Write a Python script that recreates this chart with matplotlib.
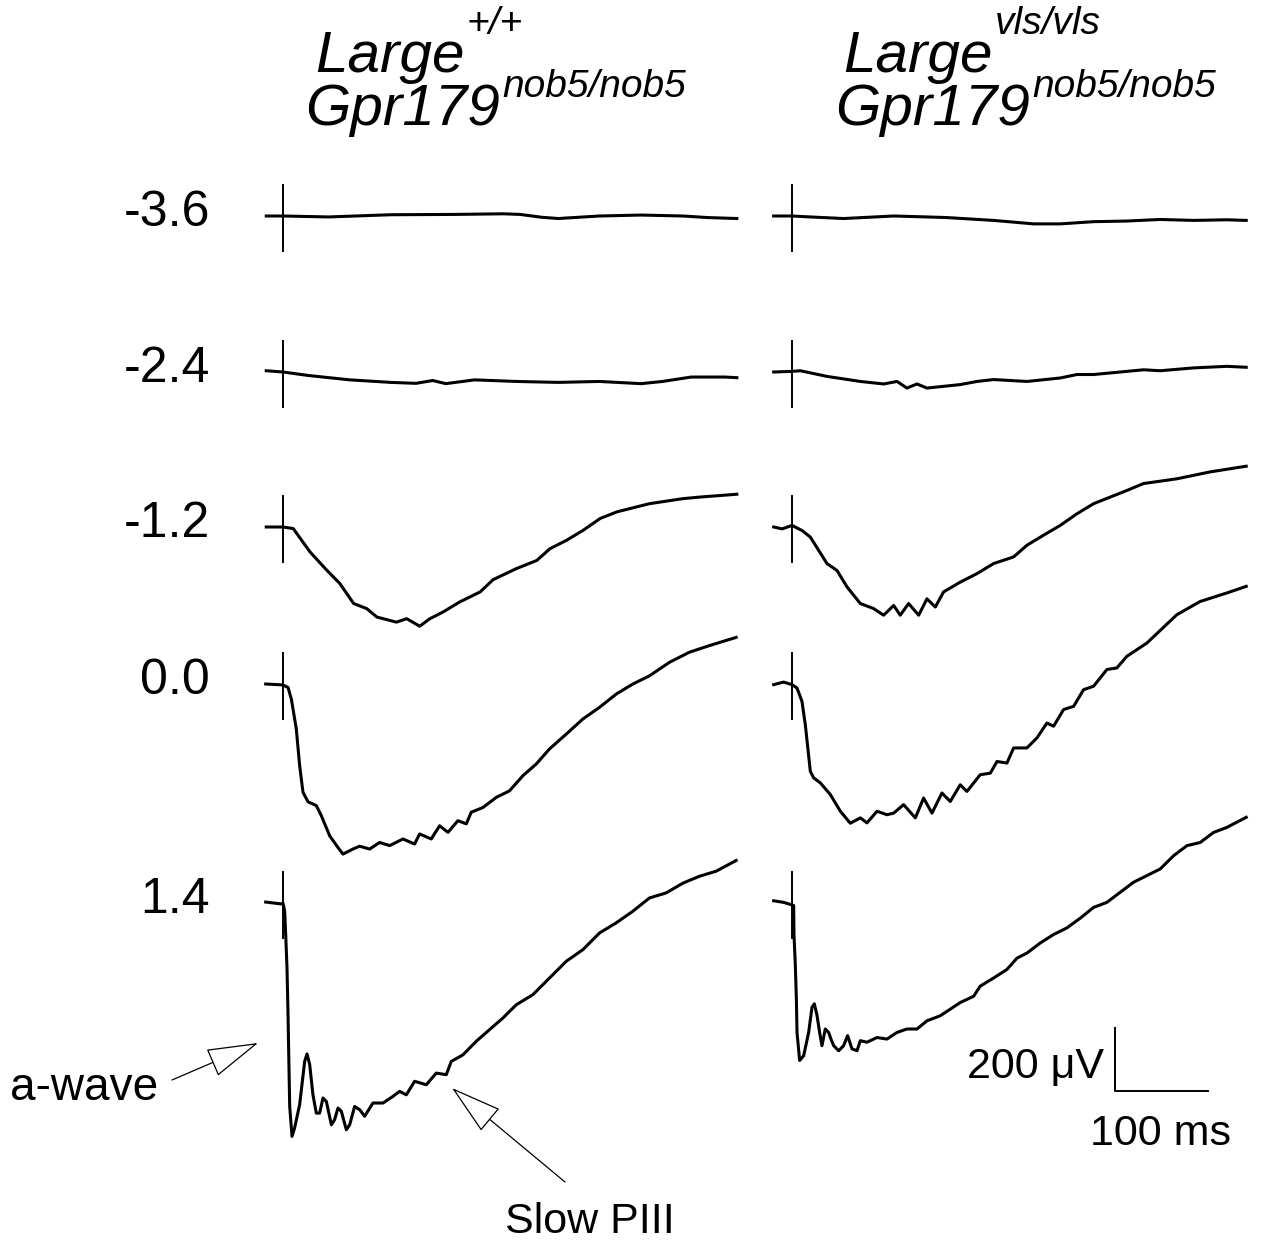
import numpy as np
import matplotlib
matplotlib.use("Agg")
import matplotlib.pyplot as plt

plt.rcParams['font.family'] = ['Liberation Sans', 'DejaVu Sans']

W, H = 1262, 1247
MS_PER_PX = 100 / 93.0     # 100 ms scale bar = 93 px
UV_PER_PX = 200 / 63.0     # 200 uV scale bar = 63 px

# flash intensities (log cd s/m2), one row each
intensities = ["-3.6", "-2.4", "-1.2", "0.0", "1.4"]

# ---- Large+/+ Gpr179 nob5/nob5 (left column); t in ms after flash, v in uV from baseline
wt_m36_t = [-18, 0, 49, 116, 184, 237, 255, 278, 296, 340, 385, 430, 457, 488]
wt_m36_v = [0, 0, -3, 4, 5, 7, 5, -4, -8, 0, 3, 0, -5, -8]

wt_m24_t = [-18, 0, 27, 72, 116, 143, 161, 175, 206, 251, 296, 340, 385, 408, 439, 475, 488]
wt_m24_v = [4, 0, -11, -25, -33, -36, -27, -37, -25, -30, -33, -30, -37, -30, -16, -16, -18]

wt_m12_t = [-18, 0, 11, 29, 47, 61, 76, 90, 101, 122, 133, 147, 158, 172, 190, 212, 226,
            251, 273, 287, 305, 323, 341, 359, 394, 430, 448, 488]
wt_m12_v = [0, 0, -5, -79, -137, -179, -243, -259, -286, -302, -291, -315, -291, -270, -238,
            -206, -167, -132, -106, -69, -42, -10, 27, 48, 74, 90, 95, 104]

wt_00_t = [-18.6, 0, 5.4, 9, 14.3, 17.9, 21.5, 26.9, 35.8, 41.2, 50.2, 59.1, 64.5, 75.2, 82.4,
           93.2, 103.9, 114.7, 129, 141.5, 146.9, 159.4, 168.4, 177.4, 188.1, 197.1, 202.4,
           215, 229.3, 243.6, 258, 272.3, 286.6, 304.6, 322.5, 340.4, 358.3, 376.2, 394.1,
           415.6, 437.1, 458.6, 487.3]
wt_00_v = [0, -3, -11, -48, -143, -259, -344, -374, -386, -418, -482, -519, -540, -524, -515,
           -524, -503, -513, -492, -508, -476, -492, -450, -471, -434, -444, -407, -392, -360,
           -339, -291, -254, -206, -159, -111, -74, -32, 0, 26, 69, 101, 122, 148]

wt_14_t = [-18.6, -1.8, 0, 1.8, 2.9, 4.3, 5.4, 7.2, 9.7, 12.5, 17.9, 23.3, 25.8, 28.7, 32.2,
           35.8, 39.4, 43, 46.6, 52, 55.5, 59.1, 62.7, 68.1, 71.7, 77, 82.4, 87.8, 96.7, 107.5,
           118.2, 125.4, 132.6, 141.5, 154.1, 164.8, 175.6, 180.9, 193.5, 207.8, 222.1, 236.5,
           250.8, 268.7, 286.6, 304.6, 322.5, 340.4, 358.3, 376.2, 394.1, 412, 430, 447.9,
           465.8, 487.3]
wt_14_v = [3, -3, 0, -26, -101, -206, -355, -646, -741, -714, -640, -503, -479, -513, -609,
           -667, -667, -619, -630, -704, -688, -651, -661, -720, -704, -646, -656, -677, -635,
           -635, -614, -598, -609, -566, -577, -540, -545, -503, -482, -439, -402, -365, -323,
           -291, -238, -185, -148, -95, -63, -26, 16, 32, 63, 85, 101, 135]

# ---- Large vls/vls Gpr179 nob5/nob5 (right column)
vls_m36_t = [-19.7, 0, 19.7, 55.5, 109.3, 145.1, 166.6, 216.8, 259.8, 288.4, 324.3, 360.1,
             395.9, 431.8, 467.6, 488.4]
vls_m36_v = [0, 0, -3, -8, 0, -3, -5, -14, -25, -25, -18, -16, -11, -14, -12, -14]

vls_m24_t = [-19.7, 0, 9, 37.6, 73.5, 98.5, 112.9, 123.6, 134.4, 145.1, 180.9, 198.9, 216.8,
             252.6, 288.4, 306.4, 324.3, 360.1, 378, 395.9, 431.8, 467.6, 488.4]
vls_m24_v = [0, 2, 4, -14, -30, -38, -30, -51, -38, -51, -40, -30, -24, -30, -19, -8, -8, 2,
             7, 4, 13, 18, 15]

vls_m12_t = [-19.7, -10.7, 0, 10.7, 19.7, 37.6, 48.4, 59.1, 73.5, 87.8, 98.5, 109.3, 116.4,
             125.4, 136.2, 145.1, 154.1, 163, 180.9, 198.9, 216.8, 238.3, 252.6, 270.5, 288.4,
             306.4, 324.3, 342.2, 360.1, 378, 413.8, 449.7, 488.4]
vls_m12_v = [0, -6, 5, -11, -32, -116, -138, -190, -243, -259, -280, -249, -280, -243, -280,
             -228, -254, -206, -175, -148, -116, -95, -58, -26, 5, 42, 74, 95, 116, 138, 153,
             175, 193]

vls_00_t = [-19.7, -9, 0, 5.4, 10.7, 14.3, 19.7, 23.3, 30.5, 41.2, 52, 62.7, 73.5, 80.6, 91.4,
            102.1, 109.3, 120, 132.6, 141.5, 150.5, 161.2, 170.2, 180.9, 188.1, 202.4, 213.2,
            220.4, 231.1, 238.3, 252.6, 263.4, 274.1, 281.3, 292, 302.8, 313.5, 324.3, 338.6,
            349.3, 360.1, 381.6, 413.8, 438.9, 467.6, 488.4]
vls_00_v = [-2, 6, -2, -13, -55, -129, -277, -298, -314, -351, -404, -442, -425, -441, -404,
            -415, -410, -383, -425, -362, -410, -346, -373, -320, -341, -288, -283, -246, -251,
            -203, -203, -171, -124, -134, -81, -71, -18, -7, 46, 51, 88, 130, 220, 262, 289, 310]

vls_14_t = [-19.7, -9, 0, 1.8, 2.1, 3.6, 4.7, 5.4, 8.2, 12.5, 17.9, 21.5, 24, 26.9, 29.7, 32.2,
            35.8, 39.4, 41.9, 44.8, 50.2, 55.5, 59.8, 64.5, 69.9, 73.5, 80.6, 91.4, 102.1,
            112.9, 123.6, 134.4, 145.1, 159.4, 170.2, 180.9, 195.3, 202.4, 216.8, 231.1, 241.9,
            252.6, 266.9, 281.3, 295.6, 310, 324.3, 338.6, 352.9, 367.3, 381.6, 395.9, 410.3,
            424.6, 438.9, 453.3, 467.6, 488.4]
vls_14_v = [7, 2, -6, -8, -99, -199, -305, -411, -500, -485, -411, -331, -320, -357, -411, -453,
            -400, -411, -432, -453, -469, -453, -421, -463, -469, -437, -442, -427, -432, -411,
            -400, -400, -374, -358, -337, -316, -296, -264, -238, -211, -175, -159, -127, -100,
            -79, -48, -14, 2, 34, 66, 87, 108, 150, 182, 192, 224, 240, 272]

left_traces = [(wt_m36_t, wt_m36_v), (wt_m24_t, wt_m24_v), (wt_m12_t, wt_m12_v),
               (wt_00_t, wt_00_v), (wt_14_t, wt_14_v)]
right_traces = [(vls_m36_t, vls_m36_v), (vls_m24_t, vls_m24_v), (vls_m12_t, vls_m12_v),
                (vls_00_t, vls_00_v), (vls_14_t, vls_14_v)]

# layout (pixels from top-left of the figure)
row_base_px = [216, 372, 527, 684, 903]
flash_px = [283, 792]


def fx(x):
    return x / W


def fy(y):
    return 1 - y / H


fig = plt.figure(figsize=(W / 100, H / 100), dpi=100)

axes = []
for col, traces in enumerate([left_traces, right_traces]):
    ax = fig.add_axes([0, 0, 1, 1])
    ax.patch.set_alpha(0)
    ax.set_xlim(-flash_px[col] * MS_PER_PX, (W - flash_px[col]) * MS_PER_PX)
    ax.set_ylim(-H * UV_PER_PX, 0)
    ax.axis('off')
    for i, (t, v) in enumerate(traces):
        off = -row_base_px[i] * UV_PER_PX
        ax.plot(t, np.array(v) + off, color='black', lw=2.2, solid_joinstyle='round')
        # flash marker
        ax.plot([0, 0], [off + 100, off - 110], color='black', lw=1.4)
    axes.append(ax)

# row labels
for i, lab in enumerate(intensities):
    fig.text(fx(210), fy(row_base_px[i] - 3), lab, ha='right', va='center', fontsize=36)

# column titles
renderer = fig.canvas.get_renderer()
titles = [(315, 305, "+/+"), (843, 835, "vls/vls")]
for x1, x2, sup in titles:
    t1 = fig.text(fx(x1), fy(72), "Large", fontsize=42, style='italic', va='baseline')
    t2 = fig.text(fx(x2), fy(125), "Gpr179", fontsize=42, style='italic', va='baseline')
    b1 = t1.get_window_extent(renderer)
    b2 = t2.get_window_extent(renderer)
    fig.text(b1.x1 / W + 0.002, fy(34), sup, fontsize=28, style='italic', va='baseline')
    fig.text(b2.x1 / W + 0.002, fy(97), "nob5/nob5", fontsize=28, style='italic', va='baseline')

# scale bar
axr = axes[1]
sb_t = (1115 - flash_px[1]) * MS_PER_PX
sb_v = -1091 * UV_PER_PX
axr.plot([sb_t, sb_t, sb_t + 100], [sb_v + 200, sb_v, sb_v], color='black', lw=1.4)
fig.text(fx(1104), fy(1067), "200 \u03bcV", ha='right', va='center', fontsize=31)
fig.text(fx(1160), fy(1134), "100 ms", ha='center', va='center', fontsize=31)

# annotations
arrow_kw = dict(arrowstyle='-|>,head_length=1.4,head_width=0.4', fc='white', ec='black',
                lw=0.9, mutation_scale=24, shrinkA=0, shrinkB=0)
fig.text(fx(10), fy(1088), "a-wave", ha='left', va='center', fontsize=33)
axes[0].annotate("", xy=(258, H - 1043), xytext=(172, H - 1080),
                 xycoords='figure pixels', textcoords='figure pixels', arrowprops=arrow_kw)
fig.text(fx(590), fy(1222), "Slow PIII", ha='center', va='center', fontsize=31)
axes[0].annotate("", xy=(452, H - 1088), xytext=(565, H - 1182),
                 xycoords='figure pixels', textcoords='figure pixels', arrowprops=arrow_kw)

fig.savefig("out.png", dpi=100, facecolor='white')
